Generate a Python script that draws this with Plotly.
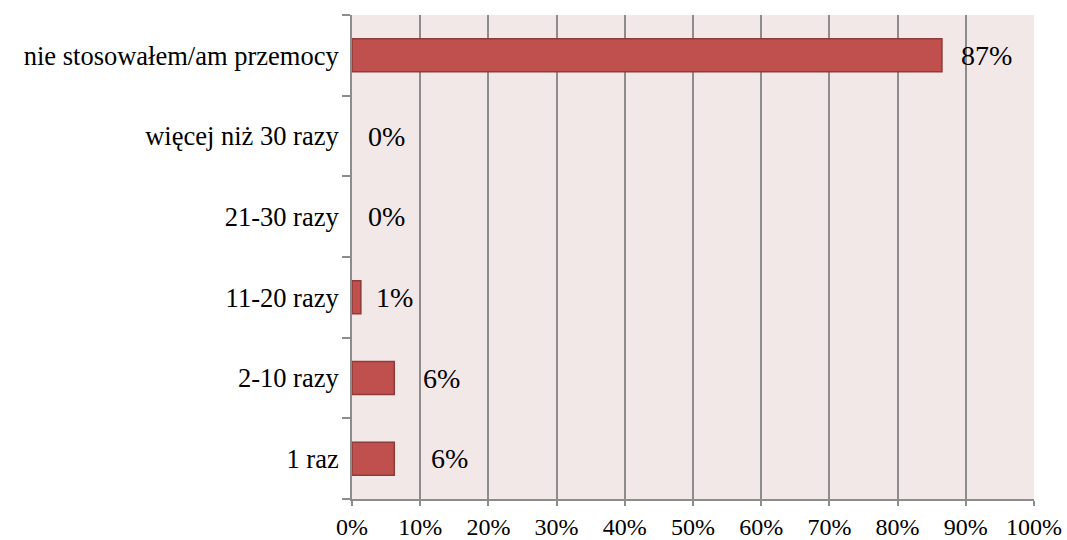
import plotly.graph_objects as go

categories = ["1 raz", "2-10 razy", "11-20 razy", "21-30 razy",
              "więcej niż 30 razy", "nie stosowałem/am przemocy"]
values = [6.2, 6.2, 1.3, 0.0, 0.0, 86.5]
labels = ["6%", "6%", "1%", "0%", "0%", "87%"]

# manual label offsets (as placed in the original chart), in axis units
label_shift = [8.1, 6.9, 5.0, 5.0, 5.0, 6.5]

FONT = "Liberation Serif, Times New Roman, serif"
GRID = "#8c8c8c"

fig = go.Figure()
fig.add_trace(go.Bar(
    x=values, y=categories, orientation="h",
    marker=dict(color="#C0504D",
                line=dict(color="#8E3A38",
                          width=[1.5 if v > 0 else 0 for v in values])),
    hoverinfo="skip",
))

for cat, v, lab, sh in zip(categories, values, labels, label_shift):
    fig.add_annotation(x=v + sh, y=cat, text=lab, showarrow=False,
                       xanchor="center", yanchor="middle",
                       font=dict(family=FONT, size=28, color="black"))

fig.update_layout(
    width=1067, height=540,
    margin=dict(l=352, r=33, t=15, b=41),
    paper_bgcolor="white", plot_bgcolor="#F2E8E8",
    bargap=0.59, showlegend=False,
    font=dict(family=FONT, size=24, color="black"),
)
fig.update_xaxes(
    range=[0, 100], dtick=10, ticksuffix="%",
    showgrid=True, gridcolor=GRID, gridwidth=2,
    showline=True, linecolor=GRID, linewidth=2,
    ticks="outside", ticklen=5, tickcolor=GRID, tickwidth=2,
    tickfont=dict(size=24),
    zeroline=False, fixedrange=True, automargin=False,
)
fig.update_yaxes(
    type="category", tickson="boundaries",
    showgrid=False, showline=True, linecolor=GRID, linewidth=2,
    ticks="outside", ticklen=8, tickcolor=GRID, tickwidth=2,
    tickfont=dict(size=26.5),
    ticklabelstandoff=6, fixedrange=True, automargin=False,
)

fig.write_html("out.html", config={"displayModeBar": False},
               post_script="document.body.style.margin='0';")
